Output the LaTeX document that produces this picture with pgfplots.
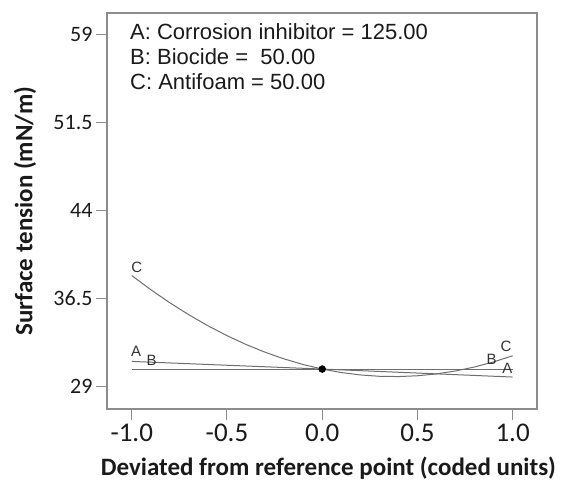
\documentclass[border=0pt]{standalone}
\usepackage{pgfplots}
\pgfplotsset{compat=1.18}
\usepackage{fontspec}
\setmainfont{Carlito}
\newfontfamily\arial{Liberation Sans}
\definecolor{framegray}{HTML}{8C8C8C}
\definecolor{curvegray}{HTML}{6E6E6E}
\definecolor{labgray}{HTML}{333333}
\definecolor{txt}{HTML}{1A1A1A}

\begin{document}
\begin{tikzpicture}
\begin{axis}[
  at={(0,0)}, anchor=south west,
  scale only axis, width=430pt, height=396pt,
  xmin=-1.13, xmax=1.128, ymin=27.08, ymax=60.79,
  xtick={-1,-0.5,0,0.5,1},
  xticklabels={-1.0,-0.5,0.0,0.5,1.0},
  ytick={29,36.5,44,51.5,59},
  yticklabels={29,36.5,44,51.5,59},
  xtick pos=bottom, ytick pos=left,
  tick align=outside, major tick length=11pt,
  axis line style={framegray, line width=1.3pt},
  tick style={framegray, line width=1pt},
  xticklabel style={font=\fontsize{27}{27}\selectfont, text=txt},
  yticklabel style={font=\fontsize{22}{22}\selectfont, text=txt},
  xlabel={Deviated from reference point (coded units)},
  ylabel={Surface tension (mN/m)},
  xlabel style={at={(axis description cs:0.515,0)}, anchor=base, yshift=-66pt, font=\bfseries\fontsize{25}{25}\selectfont, text=txt},
  ylabel style={at={(axis description cs:-0.1907,0.5)}, anchor=center, font=\bfseries\fontsize{25}{25}\selectfont, text=txt},
  clip=false,
]
\addplot[curvegray, line width=1pt] coordinates {
(-1,38.44) (-0.9,37.235) (-0.8,36.121) (-0.7,35.098) (-0.6,34.165) (-0.5,33.324)
(-0.4,32.573) (-0.3,31.914) (-0.2,31.345) (-0.1,30.867) (0,30.48) (0.1,30.184)
(0.2,29.979) (0.3,29.865) (0.4,29.841) (0.5,29.909) (0.6,30.067) (0.7,30.317)
(0.8,30.657) (0.9,31.088) (1,31.61)};
\addplot[curvegray, line width=1pt] coordinates {(-1,31.13) (0,30.48) (1,29.80)};
\addplot[curvegray, line width=1pt] coordinates {(-1,30.48) (1,30.48)};
\addplot[only marks, mark=*, mark size=3.5pt, black] coordinates {(0,30.48)};

\node[font=\arial\fontsize{15}{15}\selectfont, text=labgray] at (axis cs:-0.974,39.15) {C};
\node[font=\arial\fontsize{15}{15}\selectfont, text=labgray] at (axis cs:-0.977,31.98) {A};
\node[font=\arial\fontsize{15}{15}\selectfont, text=labgray] at (axis cs:-0.895,31.21) {B};
\node[font=\arial\fontsize{15}{15}\selectfont, text=labgray] at (axis cs:0.890,31.33) {B};
\node[font=\arial\fontsize{15}{15}\selectfont, text=labgray] at (axis cs:0.965,32.40) {C};
\node[font=\arial\fontsize{15}{15}\selectfont, text=labgray] at (axis cs:0.972,30.56) {A};

\node[anchor=base west, inner sep=0, font=\arial\fontsize{22}{22}\selectfont, text=txt] at (axis description cs:0.0535,0.933) {A: Corrosion inhibitor = 125.00};
\node[anchor=base west, inner sep=0, font=\arial\fontsize{22}{22}\selectfont, text=txt] at (axis description cs:0.0535,0.870) {B: Biocide =\ \ 50.00};
\node[anchor=base west, inner sep=0, font=\arial\fontsize{22}{22}\selectfont, text=txt] at (axis description cs:0.0535,0.807) {C: Antifoam = 50.00};
\end{axis}
\pgfresetboundingbox
\path (-107pt,-78pt) rectangle (455pt,409pt);
\end{tikzpicture}
\end{document}
